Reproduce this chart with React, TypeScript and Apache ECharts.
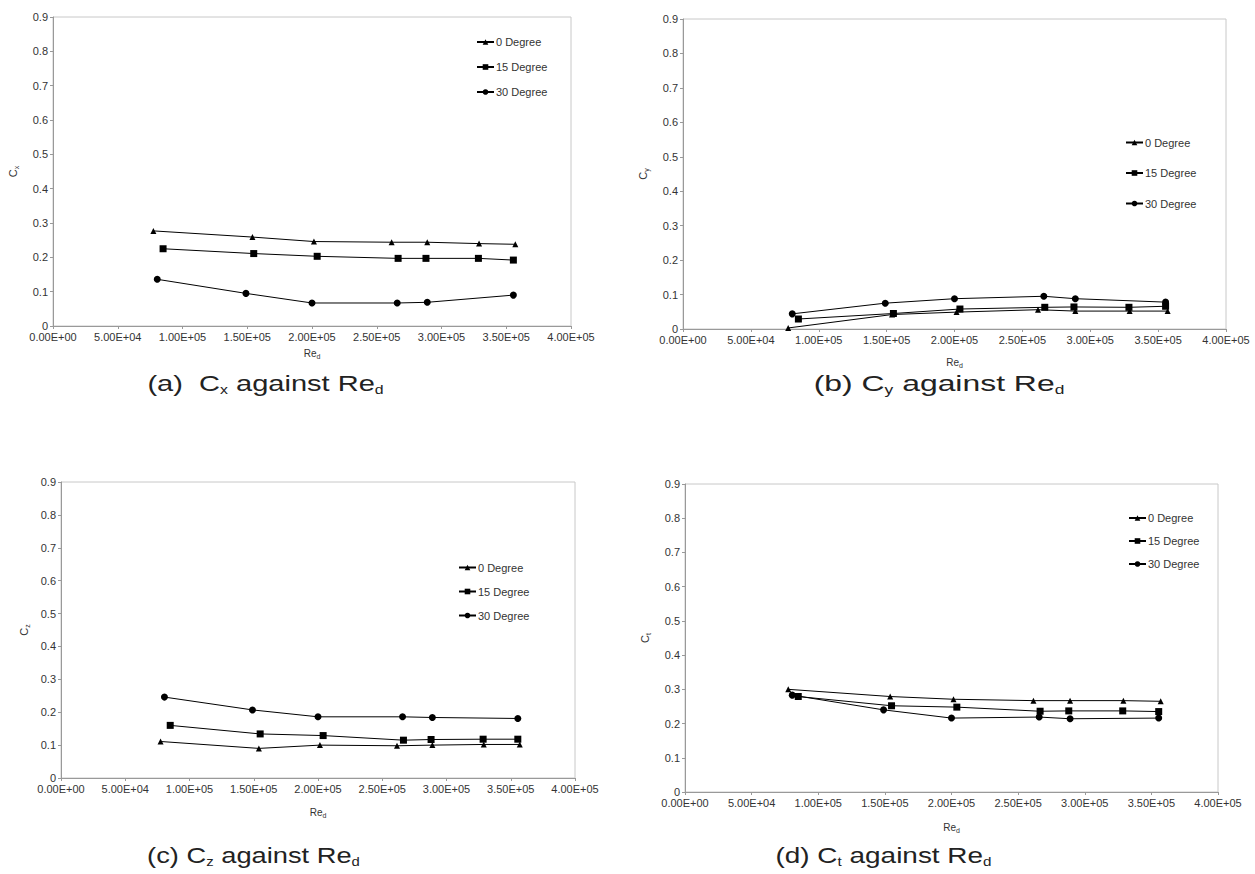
import React, { useEffect, useRef } from "react";
import * as echarts from "echarts";

// Reynolds numbers for each angle (shared by all four panels)
const re0 = [77500, 154000, 201500, 261500, 289000, 329000, 357000];
const re15 = [85000, 155000, 204000, 266500, 288000, 328500, 355500];
const re30 = [80500, 149000, 200000, 265800, 289000, 355500];

const seriesNames = ["0 Degree", "15 Degree", "30 Degree"];

// (a) Cx
const cx0 = [0.277, 0.259, 0.246, 0.244, 0.244, 0.24, 0.238];
const cx15 = [0.225, 0.211, 0.203, 0.197, 0.197, 0.197, 0.192];
const cx30 = [0.136, 0.095, 0.067, 0.067, 0.069, 0.09];
// (b) Cy
const cy0 = [0.003, 0.042, 0.049, 0.056, 0.052, 0.052, 0.052];
const cy15 = [0.029, 0.045, 0.058, 0.063, 0.064, 0.063, 0.066];
const cy30 = [0.044, 0.075, 0.088, 0.095, 0.088, 0.078];
// (c) Cz
const cz0 = [0.111, 0.09, 0.1, 0.098, 0.1, 0.102, 0.102];
const cz15 = [0.16, 0.134, 0.129, 0.115, 0.117, 0.118, 0.118];
const cz30 = [0.246, 0.207, 0.186, 0.186, 0.184, 0.181];
// (d) Ct
const ct0 = [0.3, 0.279, 0.271, 0.267, 0.267, 0.267, 0.265];
const ct15 = [0.279, 0.252, 0.248, 0.236, 0.237, 0.237, 0.235];
const ct30 = [0.283, 0.24, 0.216, 0.219, 0.214, 0.216];

const xTickLabels = [
  "0.00E+00", "5.00E+04", "1.00E+05", "1.50E+05", "2.00E+05",
  "2.50E+05", "3.00E+05", "3.50E+05", "4.00E+05",
];
const yTickLabels = ["0", "0.1", "0.2", "0.3", "0.4", "0.5", "0.6", "0.7", "0.8", "0.9"];

const panelSubs = ["x", "y", "z", "t"];
const panelLetters = ["a", "b", "c", "d"];
const panelValues = [
  [cx0, cx15, cx30],
  [cy0, cy15, cy30],
  [cz0, cz15, cz30],
  [ct0, ct15, ct30],
];

const FONT = "Liberation Sans, Arial, sans-serif";
const TXT = "#333";

const grids = [
  { left: 53, top: 17, width: 518, height: 309 },
  { left: 683, top: 19, width: 543, height: 310 },
  { left: 61, top: 482, width: 514, height: 296 },
  { left: 685, top: 484, width: 533, height: 308 },
];
const legends = [
  { left: 471, top: 31.5, gap: 14 },
  { left: 1120, top: 132, gap: 19.5 },
  { left: 453, top: 557, gap: 13 },
  { left: 1123, top: 507.5, gap: 12 },
];
const yNameGaps = [33, 33, 30, 33];
const xNameGaps = [20, 26, 27, 28];
const captions = [
  { x: 265.5, y: 383, sx: 1.32 },
  { x: 939, y: 383, sx: 1.45 },
  { x: 253.5, y: 855, sx: 1.24 },
  { x: 883.5, y: 855, sx: 1.27 },
];

const symbols = ["triangle", "rect", "circle"];
const symbolSizes = [6, 7, 7];
const reArrays = [re0, re15, re30];

export default function App() {
  const ref = useRef<HTMLDivElement>(null);
  useEffect(() => {
    if (!ref.current) return;
    const chart = echarts.init(ref.current, null, { renderer: "svg" });

    const xAxis = grids.map((_, i) => ({
      type: "value",
      gridIndex: i,
      min: 0,
      max: 400000,
      interval: 50000,
      name: "{m|Re}{s|d}",
      nameLocation: "middle",
      nameGap: xNameGaps[i],
      nameTextStyle: {
        rich: {
          m: { fontSize: 10, fontFamily: FONT, color: TXT, lineHeight: 14 },
          s: { fontSize: 7, fontFamily: FONT, color: TXT, verticalAlign: "bottom", lineHeight: 9 },
        },
      },
      axisLine: { show: true, lineStyle: { color: "#999", width: 1 } },
      axisTick: { show: true, length: 3, lineStyle: { color: "#999" } },
      splitLine: { show: false },
      axisLabel: {
        fontSize: 11,
        fontFamily: FONT,
        color: TXT,
        margin: 5,
        showMaxLabel: true,
        showMinLabel: true,
        formatter: (v: number) => xTickLabels[Math.round(v / 50000)] ?? "",
      },
    }));

    const yAxis = grids.map((_, i) => ({
      type: "value",
      gridIndex: i,
      min: 0,
      max: 0.9,
      interval: 0.1,
      name: `{m|C}{s|${panelSubs[i]}}`,
      nameLocation: "middle",
      nameRotate: 90,
      nameGap: yNameGaps[i],
      nameTextStyle: {
        rich: {
          m: { fontSize: 11, fontFamily: FONT, color: TXT, lineHeight: 14 },
          s: { fontSize: 7, fontFamily: FONT, color: TXT, verticalAlign: "bottom", lineHeight: 9 },
        },
      },
      axisLine: { show: true, lineStyle: { color: "#999", width: 1 } },
      axisTick: { show: true, length: 3, lineStyle: { color: "#999" } },
      splitLine: { show: false },
      axisLabel: {
        fontSize: 11,
        fontFamily: FONT,
        color: TXT,
        margin: 5,
        formatter: (v: number) => yTickLabels[Math.round(v * 10)] ?? "",
      },
    }));

    const series: any[] = [];
    panelValues.forEach((vals, p) => {
      vals.forEach((arr, s) => {
        series.push({
          type: "line",
          name: seriesNames[s],
          xAxisIndex: p,
          yAxisIndex: p,
          data: arr.map((v, k) => [reArrays[s][k], v]),
          symbol: symbols[s],
          symbolSize: symbolSizes[s],
          showSymbol: true,
          lineStyle: { color: "#000", width: 1 },
          itemStyle: { color: "#000" },
          z: 3,
        });
      });
    });

    const legend = legends.map((l) => ({
      orient: "vertical",
      left: l.left,
      top: l.top,
      itemGap: l.gap,
      itemWidth: 17,
      itemHeight: 7,
      selectedMode: false,
      data: seriesNames,
      textStyle: { fontSize: 11, fontFamily: FONT, color: TXT, padding: [0, 0, 0, -3] },
    }));

    const graphic = captions.map((c, i) => ({
      type: "text",
      x: c.x,
      y: c.y,
      scaleX: c.sx,
      style: {
        text: `{m|(${panelLetters[i]})${i === 0 ? "  " : " "}C}{s|${panelSubs[i]}}{m| against Re}{s|d}`,
        align: "center",
        verticalAlign: "middle",
        rich: {
          m: { fontSize: 22, fontFamily: FONT, fill: "#222", lineHeight: 26 },
          s: { fontSize: 12, fontFamily: FONT, fill: "#222", verticalAlign: "bottom", lineHeight: 12 },
        },
      },
    }));

    chart.setOption({
      animation: false,
      backgroundColor: "#fff",
      grid: grids.map((g) => ({ ...g, show: true, borderColor: "#c8c8c8", borderWidth: 1, containLabel: false })),
      xAxis,
      yAxis,
      legend,
      series,
      graphic,
    });
    return () => chart.dispose();
  }, []);

  return (
    <div
      ref={ref}
      style={{ position: "absolute", left: 0, top: 0, width: 1255, height: 874 }}
    />
  );
}
